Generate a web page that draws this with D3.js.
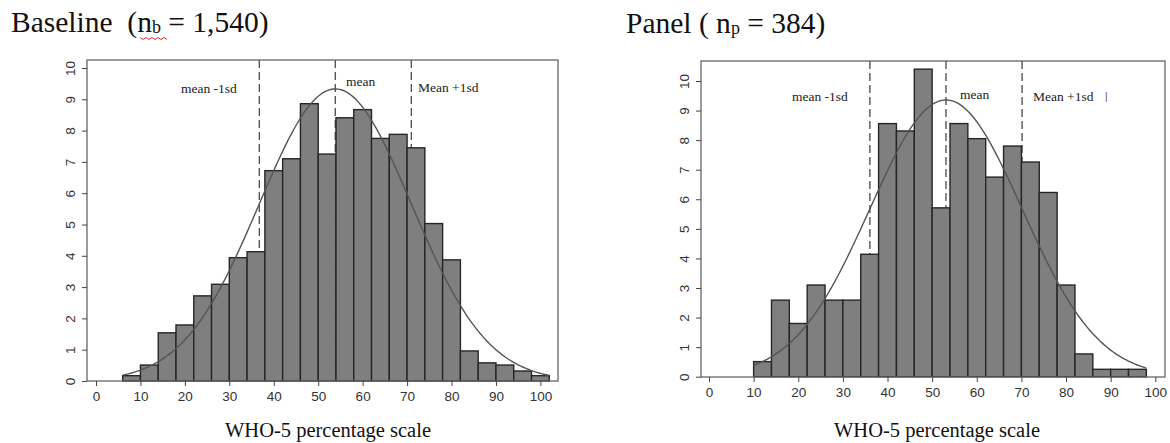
<!DOCTYPE html>
<html>
<head>
<meta charset="utf-8">
<script src="https://cdn.jsdelivr.net/npm/d3@7"></script>
<style>
  body { margin: 0; background: #fff; }
  svg { display: block; }
  text { white-space: pre; }
</style>
</head>
<body>
<svg id="chart"></svg>
<script>
// Data: percent of respondents per 4-point bin (left edge of each bin)
const binWidth = 4;
const baselineBins = [6, 10, 14, 18, 22, 26, 30, 34, 38, 42, 46, 50, 54, 58, 62, 66, 70, 74, 78, 82, 86, 90, 94, 98];
const baselineValues = [0.17, 0.51, 1.54, 1.79, 2.72, 3.09, 3.94, 4.13, 6.72, 7.10, 8.86, 7.25,
                        8.41, 8.67, 7.75, 7.88, 7.45, 5.03, 3.87, 0.96, 0.58, 0.51, 0.32, 0.17];
const baselineMean = 53.85;
const baselineSd = 17.1;

const panelBins = [10, 14, 18, 22, 26, 30, 34, 38, 42, 46, 50, 54, 58, 62, 66, 70, 74, 78, 82, 86, 90, 94];
const panelValues = [0.51, 2.59, 1.80, 3.10, 2.59, 2.59, 4.14, 8.56, 8.31, 10.40, 5.71,
                     8.56, 8.05, 6.75, 7.80, 7.26, 6.23, 3.10, 0.77, 0.25, 0.25, 0.25];
const panelMean = 53.1;
const panelSd = 17.05;

const xTicks = [0, 10, 20, 30, 40, 50, 60, 70, 80, 90, 100];
const yTicks = [0, 1, 2, 3, 4, 5, 6, 7, 8, 9, 10];
const xLabel = "WHO-5 percentage scale";
const lineLabels = ["mean -1sd", "mean", "Mean +1sd"];

const width = 1170;
const height = 443;
const serif = "'Liberation Serif', 'Times New Roman', serif";
const sans = "'Liberation Sans', Arial, sans-serif";

const svg = d3.select("#chart")
  .attr("width", width)
  .attr("height", height);

// Layout of each panel (pixel positions)
const panels = [
  {
    title: ["Baseline  (n", "b", " = 1,540)"], titleX: 11, titleY: 32, squiggle: true,
    bins: baselineBins, values: baselineValues, mean: baselineMean, sd: baselineSd,
    frame: { left: 87, right: 558, top: 60, bottom: 381 },
    xRange: [96, 540.4], yRange: [381, 68],
    labelPos: [[181, 93], [346, 86], [418, 92]],
    xLabelX: 328, extraBar: false
  },
  {
    title: ["Panel ( n", "p", " = 384)"], titleX: 626, titleY: 33, squiggle: false,
    bins: panelBins, values: panelValues, mean: panelMean, sd: panelSd,
    frame: { left: 701, right: 1165, top: 61, bottom: 377 },
    xRange: [709, 1155.3], yRange: [376.7, 81],
    labelPos: [[792, 101], [960, 99], [1033, 101]],
    xLabelX: 937, extraBar: true
  }
];

function dnorm(v, m, s) {
  return Math.exp(-0.5 * ((v - m) / s) ** 2) / (s * Math.sqrt(2 * Math.PI));
}

panels.forEach(p => {
  const g = svg.append("g");

  const x = d3.scaleLinear().domain([0, 100]).range(p.xRange);
  const y = d3.scaleLinear().domain([0, 10]).range(p.yRange);

  // Title with subscript
  const t = g.append("text")
    .attr("x", p.titleX)
    .attr("y", p.titleY)
    .attr("font-family", serif)
    .attr("font-size", 29.5)
    .attr("fill", "#111");
  t.append("tspan").text(p.title[0]);
  t.append("tspan").attr("font-size", 18).attr("dy", 1).text(p.title[1]);
  t.append("tspan").attr("dy", -1).text(p.title[2]);

  // spell-check squiggle under "nb"
  if (p.squiggle) {
    const pts = d3.range(0, 10).map(i => [140 + i * 3, 38 + (i % 2 ? 1.5 : -0.5)]);
    g.append("path")
      .attr("d", d3.line()(pts))
      .attr("fill", "none")
      .attr("stroke", "#e03030")
      .attr("stroke-width", 1);
  }

  // Dashed reference lines at mean - sd, mean, mean + sd
  const refs = [p.mean - p.sd, p.mean, p.mean + p.sd];
  g.selectAll(".ref")
    .data(refs)
    .enter()
    .append("line")
    .attr("class", "ref")
    .attr("x1", d => x(d))
    .attr("x2", d => x(d))
    .attr("y1", p.frame.top)
    .attr("y2", p.frame.bottom)
    .attr("stroke", "#555")
    .attr("stroke-width", 1.4)
    .attr("stroke-dasharray", "8,4");

  // Bars
  g.selectAll(".bar")
    .data(p.bins.map((b, i) => ({ start: b, value: p.values[i] })))
    .enter()
    .append("rect")
    .attr("class", "bar")
    .attr("x", d => x(d.start))
    .attr("y", d => y(d.value))
    .attr("width", d => x(d.start + binWidth) - x(d.start))
    .attr("height", d => y(0) - y(d.value))
    .attr("fill", "#7f7f7f")
    .attr("stroke", "#262626")
    .attr("stroke-width", 1.4);

  // Fitted normal curve (scaled to percent per bin)
  const lo = p.bins[0];
  const hi = p.bins[p.bins.length - 1] + binWidth;
  const curvePts = d3.range(lo, hi + 0.001, 0.5)
    .map(v => [v, 100 * binWidth * dnorm(v, p.mean, p.sd)]);
  g.append("path")
    .attr("d", d3.line().x(d => x(d[0])).y(d => y(d[1]))(curvePts))
    .attr("fill", "none")
    .attr("stroke", "#555")
    .attr("stroke-width", 1.4);

  // Frame
  g.append("rect")
    .attr("x", p.frame.left)
    .attr("y", p.frame.top)
    .attr("width", p.frame.right - p.frame.left)
    .attr("height", p.frame.bottom - p.frame.top)
    .attr("fill", "none")
    .attr("stroke", "#666")
    .attr("stroke-width", 1.3);

  // X axis
  const xAxis = g.append("g")
    .attr("transform", `translate(0,${p.frame.bottom})`)
    .call(d3.axisBottom(x).tickValues(xTicks).tickSize(5).tickSizeOuter(0).tickPadding(5));
  xAxis.select(".domain").remove();
  xAxis.selectAll("line").attr("stroke", "#444");
  xAxis.selectAll("text")
    .attr("font-family", sans)
    .attr("font-size", 13.5)
    .attr("fill", "#333");

  // Y axis (labels parallel to axis)
  const yAxis = g.append("g")
    .attr("transform", `translate(${p.frame.left},0)`)
    .call(d3.axisLeft(y).tickValues(yTicks).tickSize(5).tickSizeOuter(0));
  yAxis.select(".domain").remove();
  yAxis.selectAll("line").attr("stroke", "#444");
  yAxis.selectAll("text")
    .attr("font-family", sans)
    .attr("font-size", 13.5)
    .attr("fill", "#333")
    .attr("x", null)
    .attr("text-anchor", "middle")
    .attr("transform", "translate(-17,0) rotate(-90)")
    .attr("dy", "0.35em");

  // Reference line labels
  g.selectAll(".reflabel")
    .data(lineLabels)
    .enter()
    .append("text")
    .attr("class", "reflabel")
    .attr("x", (d, i) => p.labelPos[i][0])
    .attr("y", (d, i) => p.labelPos[i][1])
    .attr("font-family", serif)
    .attr("font-size", 13.5)
    .attr("fill", "#222")
    .text(d => d);

  if (p.extraBar) {
    g.append("text")
      .attr("x", 1105)
      .attr("y", 100)
      .attr("font-family", sans)
      .attr("font-size", 10)
      .attr("fill", "#555")
      .text("|");
  }

  // X axis title
  g.append("text")
    .attr("x", p.xLabelX)
    .attr("y", 437)
    .attr("text-anchor", "middle")
    .attr("font-family", serif)
    .attr("font-size", 20.5)
    .attr("fill", "#111")
    .text(xLabel);
});
</script>
</body>
</html>
